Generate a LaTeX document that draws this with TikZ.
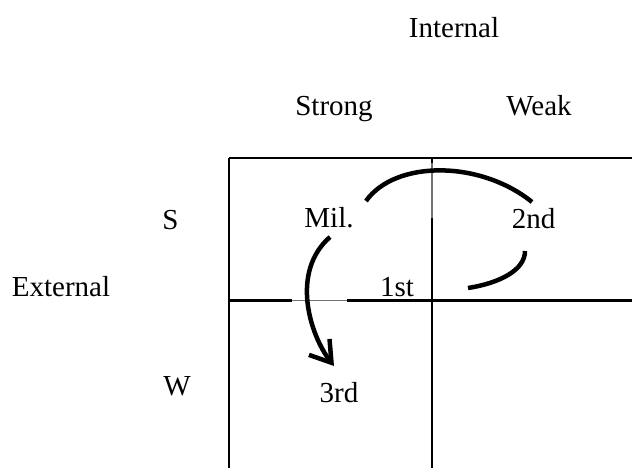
\documentclass[tikz,border=0pt]{standalone}
\usepackage{fontspec}
\setmainfont{Liberation Serif}
\usetikzlibrary{arrows.meta}
\begin{document}
\begin{tikzpicture}[x=1pt,y=-1pt,
  lbl/.style={anchor=base,inner sep=0pt,font=\fontsize{29}{34}\selectfont},
  gridline/.style={line width=2.2pt,black},
  faint/.style={line width=1.4pt,black!55},
  flow/.style={line width=4.5pt,black}]
\useasboundingbox (0,0) rectangle (632,468);
% grid
\draw[gridline] (229,158) -- (632,158);
\draw[gridline] (229,300.5) -- (292,300.5);
\draw[gridline] (347,300.5) -- (632,300.5);
\draw[faint] (292,300.5) -- (347,300.5);
\draw[gridline] (229,158) -- (229,468);
\draw[gridline] (432,158) -- (432,163);
\draw[faint] (432,163) -- (432,218);
\draw[gridline] (432,218) -- (432,468);
% labels
\node[lbl] (internal) at (454,38) {Internal};
\node[lbl] (strong) at (334,116) {Strong};
\node[lbl] (weak) at (539,116) {Weak};
\node[lbl] (s) at (170.5,229) {S};
\node[lbl] (external) at (61,296) {External};
\node[lbl] (w) at (177,395) {W};
\node[lbl] (mil) at (329,227.5) {Mil.};
\node[lbl] (second) at (533.5,228) {2nd};
\node[lbl] (first) at (397,296) {1st};
\node[lbl] (third) at (339,402) {3rd};
% connector end points
\coordinate (a1) at (366,201);
\coordinate (a2) at (532,202);
\coordinate (b1) at (525,251);
\coordinate (b2) at (468,288);
\coordinate (c1) at (330,237);
\coordinate (c2) at (334,366);
% connectors
\draw[flow] (a1) .. controls (395,160) and (480,160) .. (a2);
\draw[flow] (b1) .. controls (525,270) and (500,283) .. (b2);
\draw[flow,-{Straight Barb[length=20pt,width=26pt]}] (c1) .. controls (290,272) and (310,335) .. (c2);
\end{tikzpicture}
\end{document}
